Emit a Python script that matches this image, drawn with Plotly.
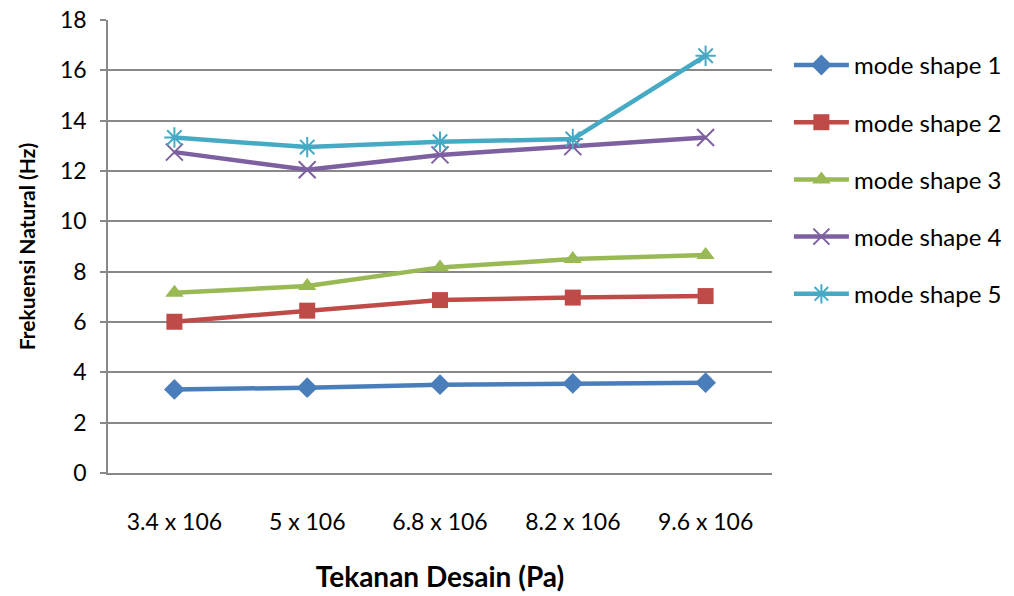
import plotly.graph_objects as go

# Design pressure categories (Pa) and natural frequencies (Hz) per mode shape
tekanan = ["3.4 x 106", "5 x 106", "6.8 x 106", "8.2 x 106", "9.6 x 106"]
mode1 = [3.32, 3.39, 3.51, 3.56, 3.59]
mode2 = [6.01, 6.45, 6.87, 6.97, 7.03]
mode3 = [7.16, 7.43, 8.17, 8.50, 8.66]
mode4 = [12.75, 12.05, 12.64, 12.97, 13.33]
mode5 = [13.33, 12.95, 13.16, 13.27, 16.58]
names = ["mode shape 1", "mode shape 2", "mode shape 3", "mode shape 4", "mode shape 5"]
y_ticks = [0, 2, 4, 6, 8, 10, 12, 14, 16, 18]

series = [mode1, mode2, mode3, mode4, mode5]
colors = ["#4A7EBB", "#BE4B48", "#98B954", "#7D60A0", "#46AAC5"]
symbols = ["diamond", "square", "triangle-up", "x-thin-open", "asterisk-open"]
sizes = [16, 16, 16, 17, 17]

fig = go.Figure()
for i, (vals, name) in enumerate(zip(series, names)):
    open_sym = symbols[i].endswith("open")
    fig.add_trace(go.Scatter(
        x=tekanan, y=vals, name=name, mode="lines+markers",
        legendgroup=name,
        line=dict(color=colors[i], width=4.5),
        marker=dict(symbol=symbols[i], size=sizes[i], color=colors[i],
                    line=dict(color=colors[i], width=2 if open_sym else 0)),
    ))

font = "Lato, 'Open Sans', sans-serif"
fig.update_layout(
    width=1014, height=596,
    margin=dict(l=108, r=242, t=20, b=123),
    paper_bgcolor="white", plot_bgcolor="white",
    font=dict(family=font, size=23, color="#000000"),
    showlegend=True,
    legend=dict(
        xref="container", yref="container",
        x=0.778, y=0.928, xanchor="left", yanchor="top",
        font=dict(size=24, color="#000000"),
        itemwidth=55, tracegroupgap=23,
        bgcolor="rgba(0,0,0,0)",
    ),
    xaxis=dict(
        type="category", range=[-0.5, 4.5], automargin=False,
        showline=True, linecolor="#888888", linewidth=1.5,
        showgrid=False, ticks="",
        ticklabelstandoff=28,
        tickfont=dict(size=23),
        title=dict(text="<b>Tekanan Desain (Pa)</b>", font=dict(size=28), standoff=33),
    ),
    yaxis=dict(
        range=[0, 18], tickvals=y_ticks, automargin=False,
        showline=True, linecolor="#888888", linewidth=1.5,
        showgrid=True, gridcolor="#888888", gridwidth=1.5,
        ticks="outside", ticklen=6, tickcolor="#888888", tickwidth=1.5,
        ticklabelstandoff=9,
        tickfont=dict(size=23),
        zeroline=False,
        title=dict(text="<b>Frekuensi Natural (Hz)</b>", font=dict(size=21), standoff=19),
    ),
)

fig.write_html("out.html")
